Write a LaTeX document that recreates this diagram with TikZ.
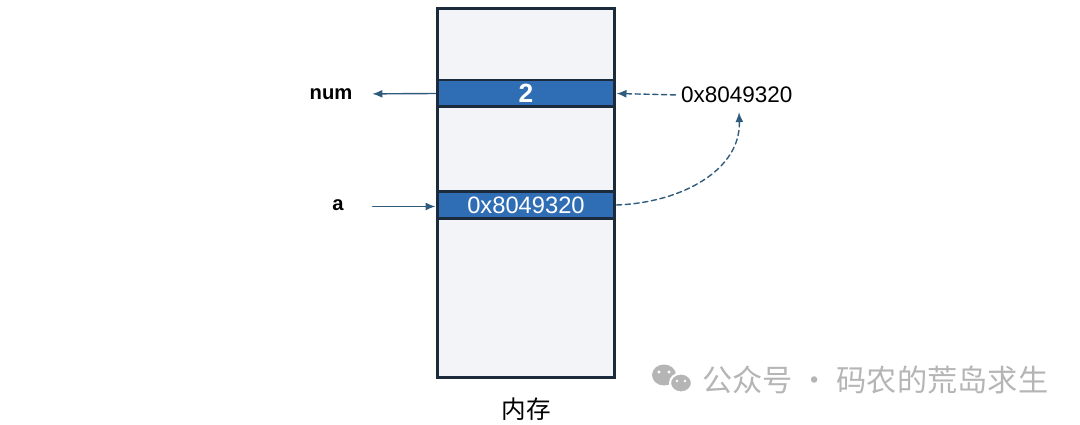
\documentclass[tikz,border=0pt]{standalone}
\usepackage{fontspec}
\setmainfont{Liberation Sans}
\newfontfamily\cjk{Noto Sans CJK SC}
\usetikzlibrary{arrows.meta, calc, positioning}
\definecolor{memEdge}{HTML}{1B2B3B}
\definecolor{memFill}{HTML}{F3F4F7}
\definecolor{cellBlue}{HTML}{2F6DB5}
\definecolor{ptrBlue}{HTML}{2F5B7D}
\definecolor{markGray}{HTML}{B5B5B5}
\tikzset{
  membox/.style={draw=memEdge, fill=memFill, line width=1.7pt, minimum width=3.56cm, minimum height=7.4cm, inner sep=0},
  cellbox/.style={draw=memEdge, fill=cellBlue, line width=1.7pt, minimum width=3.56cm, minimum height=0.54cm, inner sep=0, text=white},
  ptr/.style={-{Latex[length=2mm, width=1.6mm]}, ptrBlue, line width=0.8pt},
  ptrdash/.style={ptr, dashed, dash pattern=on 3pt off 2pt}
}
\begin{document}
\begin{tikzpicture}[x=0.02cm, y=-0.02cm, line cap=round]
  \useasboundingbox (0,0) rectangle (1080,425);

  % memory column
  \node[membox] (mem) at (526,193) {};
  \node[cellbox, font=\bfseries\fontsize{15}{15}\selectfont] (numcell) at (526,93.5) {2};
  \node[cellbox, font=\fontsize{13.5}{13.5}\selectfont] (acell) at (526,205) {0x8049320};
  \node[below=0.25cm of mem, font=\cjk\fontsize{14}{14}\selectfont] (memlbl) {内存};

  % labels
  \node[font=\bfseries\fontsize{11.5}{11.5}\selectfont, inner sep=1pt] (numlbl) at (331,94) {num};
  \node[font=\bfseries\fontsize{11.5}{11.5}\selectfont, inner sep=1pt] (albl) at (338,205) {a};
  \node[font=\fontsize{12.8}{12.8}\selectfont, anchor=west, inner sep=1pt] (addr) at (679,95) {0x8049320};

  % pointers
  \draw[ptr, shorten >=18pt*0.567] (numcell.west) -- (numlbl.east);
  \draw[ptr] ($ (albl.east)+(27,1.5) $) coordinate (astart) -- (astart -| acell.west);
  \draw[ptrdash, shorten <=2pt] (addr.west) -- (numcell.east);
  \draw[ptrdash, shorten >=4pt] (acell.east) to[out=2, in=-88, looseness=1.05] ($ (addr.south)+(2,0) $);

  % watermark
  \fill[markGray] (664,375) ellipse (12 and 10.5);
  \fill[markGray, draw=white, line width=1.2pt] (681,383) ellipse (11 and 9.5);
  \fill[white] (659,372) circle (1.6) (669,372) circle (1.6) (677,381) circle (1.4) (685,381) circle (1.4);
  \node[font=\cjk\fontsize{17.2}{17.2}\selectfont, text=markGray, anchor=west, inner sep=0] (mark) at (702,380) {公众号 · 码农的荒岛求生};
\end{tikzpicture}
\end{document}
